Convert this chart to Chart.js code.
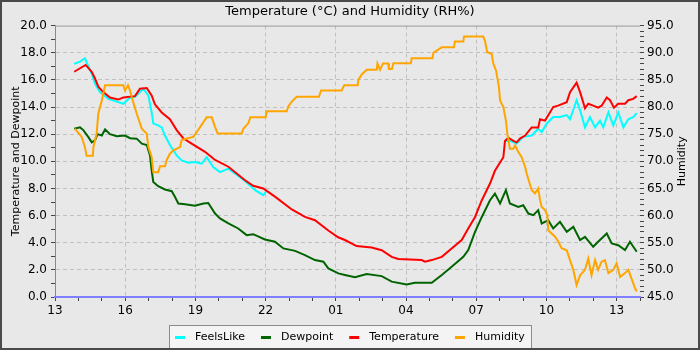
<!DOCTYPE html>
<html>
<head>
<meta charset="utf-8">
<script src="https://cdn.jsdelivr.net/npm/chart.js@4.4.1/dist/chart.umd.min.js"></script>
<style>
  html, body { margin: 0; padding: 0; background: #e8e8e8; }
</style>
</head>
<body>
<canvas id="chart" width="700" height="350"></canvas>
<script>
// hours counted from 13:00 on the first day
const tempHours = [0.82,1.31,1.57,1.71,1.85,2.06,2.35,2.70,2.92,3.42,3.63,3.92,4.13,4.27,4.56,4.91,5.20,5.48,5.84,6.41,6.84,7.41,8.12,8.47,8.90,9.40,10.12,10.68,11.11,11.68,12.10,12.39,12.89,13.53,13.96,14.39,14.67,15.67,15.81,16.10,16.53,16.95,17.38,17.66,17.95,18.24,18.59,18.80,19.16,19.23,19.37,19.59,19.73,19.87,20.09,20.37,20.65,20.73,20.94,21.08,21.29,21.50,21.87,22.01,22.29,22.44,22.65,22.79,23.00,23.21,23.36,23.58,23.72,23.89,24.07,24.36,24.50,24.71,24.86];
const temperature = [16.6,17.1,16.6,16.1,15.5,15.1,14.7,14.55,14.7,14.8,15.35,15.4,14.85,14.2,13.6,13.1,12.3,11.7,11.3,10.7,10.1,9.6,8.6,8.2,8.0,7.4,6.45,5.9,5.66,4.9,4.4,4.2,3.75,3.65,3.45,2.96,2.8,2.72,2.6,2.72,2.96,3.58,4.2,5.05,5.9,7.13,8.36,9.3,10.3,11.5,11.74,11.5,11.4,11.67,11.9,12.5,12.5,13.1,13.0,13.4,14.0,14.1,14.36,15.1,15.8,15.1,13.9,14.24,14.1,13.95,14.1,14.7,14.5,13.95,14.24,14.24,14.5,14.6,14.8];

const dewHours = [0.82,1.07,1.21,1.42,1.57,1.71,1.82,2.00,2.14,2.35,2.64,2.99,3.21,3.49,3.71,3.92,4.06,4.13,4.20,4.41,4.70,4.99,5.13,5.27,5.56,5.98,6.34,6.55,6.84,7.05,7.41,7.83,8.19,8.47,8.97,9.40,9.76,10.26,10.68,11.11,11.47,11.68,12.11,12.39,12.82,13.32,13.96,14.39,15.03,15.38,16.10,16.53,16.95,17.45,17.66,17.95,18.24,18.59,18.80,19.02,19.27,19.44,19.80,20.01,20.23,20.44,20.65,20.80,21.08,21.29,21.58,21.87,22.15,22.44,22.65,23.00,23.21,23.58,23.79,24.07,24.36,24.57,24.86];
const dewpoint = [12.4,12.5,12.3,11.8,11.4,11.55,12.0,11.9,12.35,12.0,11.85,11.9,11.7,11.67,11.3,11.2,10.44,9.34,8.48,8.16,7.92,7.8,7.37,6.89,6.84,6.72,6.89,6.93,6.15,5.79,5.42,5.05,4.56,4.63,4.24,4.07,3.58,3.4,3.09,2.72,2.6,2.11,1.74,1.62,1.45,1.69,1.54,1.13,0.93,1.05,1.05,1.62,2.23,2.96,3.46,4.8,5.9,7.13,7.62,6.89,7.87,6.89,6.64,6.76,6.15,6.03,6.4,5.42,5.66,5.05,5.54,4.8,5.17,4.2,4.43,3.7,4.07,4.68,3.95,3.82,3.46,4.07,3.33];

// null where FeelsLike sits on the Temperature line
const feelsHours = [0.82,1.07,1.28,1.35,1.57,1.71,1.92,2.28,2.64,2.92,3.21,3.42,3.77,3.99,4.13,4.20,4.41,4.56,4.70,4.91,5.20,5.41,5.70,5.98,6.27,6.48,6.76,7.05,7.41,8.12,8.55,8.90,9.05,9.10,19.23,19.44,19.73,20.01,20.37,20.65,20.80,21.01,21.29,21.58,21.87,22.01,22.29,22.44,22.65,22.86,23.08,23.29,23.43,23.65,23.86,24.07,24.29,24.50,24.71,24.86];
const feelsLike = [17.18,17.35,17.6,17.3,16.45,15.7,15.1,14.6,14.4,14.24,14.7,14.75,15.35,14.85,13.6,12.8,12.65,12.5,11.9,11.2,10.44,10.07,9.9,9.95,9.83,10.3,9.58,9.2,9.46,8.55,7.87,7.5,7.85,null,11.5,11.5,11.3,11.8,11.9,12.4,12.15,12.77,13.26,13.26,13.4,13.1,14.5,13.75,12.5,13.26,12.5,13.0,12.5,13.6,12.65,13.6,12.5,13.1,13.26,13.55];

const humHours = [0.85,1.14,1.28,1.35,1.62,1.64,1.78,1.85,2.00,2.14,2.92,2.99,3.12,3.21,3.28,3.49,3.71,3.92,3.99,4.13,4.20,4.41,4.49,4.70,4.77,4.91,5.06,5.34,5.41,5.63,5.91,6.06,6.20,6.34,6.48,6.70,6.84,6.95,7.98,8.05,8.26,8.35,9.00,9.05,9.90,9.97,10.12,10.33,11.28,11.37,12.25,12.36,12.94,12.96,13.11,13.32,13.75,13.78,13.89,14.02,14.24,14.27,14.40,14.46,15.21,15.24,16.13,16.17,16.53,17.05,17.09,17.45,17.48,18.30,18.38,18.47,18.66,18.73,18.85,18.97,19.02,19.16,19.27,19.33,19.44,19.59,19.66,19.80,19.94,20.09,20.16,20.37,20.51,20.65,20.73,20.80,20.94,21.04,21.08,21.37,21.51,21.65,21.87,22.01,22.15,22.29,22.44,22.65,22.79,22.93,23.08,23.21,23.36,23.50,23.65,23.86,24.00,24.15,24.36,24.50,24.64,24.79,24.86];
const humidity = [76.0,74.5,72.6,71.0,71.0,72.6,75.1,78.8,81.2,84.0,84.0,83.05,84.0,83.0,81.8,78.8,76.0,75.1,72.6,70.8,68.0,68.0,69.1,69.1,70.2,71.4,72.0,72.6,73.9,74.2,74.5,75.4,76.3,77.2,78.1,78.1,76.3,75.1,75.1,76.0,77.0,78.1,78.1,79.2,79.2,80.1,81.0,81.9,81.9,83.05,83.05,84.0,84.0,85.0,86.0,86.85,86.85,88.0,86.85,88.0,88.0,87.0,87.0,88.07,88.07,89.0,89.0,90.0,91.0,91.0,92.06,92.06,93.0,93.0,92.1,90.1,89.8,88.0,86.7,83.7,81.2,80.0,77.5,75.1,72.3,72.3,72.9,71.7,70.8,69.0,67.7,64.7,64.1,65.0,62.8,61.6,61.0,60.1,57.3,56.1,55.2,54.0,53.6,51.8,50.0,47.2,49.0,50.0,52.1,49.0,51.8,50.0,51.5,51.8,49.4,50.0,51.2,48.7,49.4,50.0,48.4,46.6,46.0];

const seriesNames = ["FeelsLike", "Dewpoint", "Temperature", "Humidity"];
const seriesColors = ["#00ffff", "#006400", "#ff0000", "#ffa500"];

function points(hours, values) {
  return hours.map((h, i) => ({ x: h, y: values[i] }));
}

function hourLabel(v) {
  if (v % 3 !== 0) return "";
  return String((13 + v) % 24).padStart(2, "0");
}

const GRID = "#c0c0c0";
const FONT = "'DejaVu Sans', sans-serif";

Chart.defaults.font.family = FONT;
Chart.defaults.color = "#000";

// legend box under the axis, frame round the picture, right axis title
const framePlugin = {
  id: "frame",
  beforeDraw(c) {
    const ctx = c.ctx;
    ctx.save();
    ctx.fillStyle = "#e8e8e8";
    ctx.fillRect(0, 0, c.width, c.height);
    ctx.restore();
  },
  afterDraw(c) {
    const ctx = c.ctx;
    const a = c.chartArea;
    ctx.save();
    ctx.strokeStyle = "#999";
    ctx.lineWidth = 1;
    ctx.beginPath();
    ctx.moveTo(a.left, a.top + 0.5);
    ctx.lineTo(a.right, a.top + 0.5);
    ctx.stroke();

    ctx.save();
    ctx.translate(682, (a.top + a.bottom) / 2);
    ctx.rotate(-Math.PI / 2);
    ctx.fillStyle = "#000";
    ctx.font = "11px " + FONT;
    ctx.textAlign = "center";
    ctx.textBaseline = "middle";
    ctx.fillText("Humidity", 0, 0);
    ctx.restore();

    // legend
    ctx.font = "11px " + FONT;
    const items = c.data.datasets.map(d => ({ text: d.label, color: d.borderColor, w: ctx.measureText(d.label).width }));
    const mark = 10, gap = 10, spacing = 16, pad = 6;
    let total = pad * 2 + spacing * (items.length - 1);
    items.forEach(it => { total += mark + gap + it.w; });
    const left = Math.round(c.width / 2 - total / 2);
    const top = 325, h = 24, cy = 337;
    ctx.fillStyle = "#f4f4f4";
    ctx.fillRect(left, top, total, h);
    ctx.strokeStyle = "#8c8c8c";
    ctx.strokeRect(left + 0.5, top + 0.5, Math.round(total), h);
    let x = left + pad;
    items.forEach(it => {
      ctx.fillStyle = it.color;
      ctx.fillRect(x, cy - 1, mark, 3);
      ctx.fillStyle = "#000";
      ctx.textAlign = "left";
      ctx.textBaseline = "middle";
      ctx.fillText(it.text, x + mark + gap, cy);
      x += mark + gap + it.w + spacing;
    });

    ctx.strokeStyle = "#4a4a4a";
    ctx.lineWidth = 2;
    ctx.strokeRect(1, 1, c.width - 2, c.height - 2);
    ctx.restore();
  }
};

const ctx = document.getElementById("chart").getContext("2d");
const chart = new Chart(ctx, {
  type: "line",
  data: {
    datasets: [
      { label: seriesNames[0], data: points(feelsHours, feelsLike), yAxisID: "y", order: 4 },
      { label: seriesNames[1], data: points(dewHours, dewpoint), yAxisID: "y", order: 3 },
      { label: seriesNames[2], data: points(tempHours, temperature), yAxisID: "y", order: 2 },
      { label: seriesNames[3], data: points(humHours, humidity), yAxisID: "y1", order: 1 }
    ].map((d, i) => Object.assign(d, {
      borderColor: seriesColors[i],
      backgroundColor: seriesColors[i],
      borderWidth: 2,
      pointRadius: 0,
      tension: 0,
      spanGaps: false
    }))
  },
  options: {
    responsive: false,
    animation: false,
    layout: { padding: { left: 0, right: 0, top: 0, bottom: 28 } },
    plugins: {
      title: {
        display: true,
        text: "Temperature (°C) and Humidity (RH%)",
        font: { size: 13, weight: "normal" },
        color: "#000",
        padding: { top: 4, bottom: 6 }
      },
      legend: { display: false },
      tooltip: { enabled: false }
    },
    scales: {
      x: {
        type: "linear",
        min: 0,
        max: 25,
        afterFit: s => { s.height = 25; },
        ticks: {
          stepSize: 1,
          autoSkip: false,
          maxRotation: 0,
          font: { size: 12 },
          padding: 3,
          callback: v => hourLabel(v)
        },
        grid: {
          color: c => (c.tick && c.tick.value % 3 === 0 && c.tick.value > 0 && c.tick.value < 25) ? GRID : "rgba(0,0,0,0)",
          tickColor: "#444",
          tickLength: 4,
          tickBorderDash: []
        },
        border: { color: "#8080ff", width: 2, dash: [4, 3] }
      },
      y: {
        position: "left",
        min: 0,
        max: 20,
        afterFit: s => { s.width = 55; },
        ticks: {
          stepSize: 1,
          autoSkip: false,
          font: { size: 12 },
          padding: 4,
          callback: v => (v % 2 === 0 ? v.toFixed(1) : "")
        },
        grid: {
          color: c => (c.tick && c.tick.value % 2 === 0 && c.tick.value > 0 && c.tick.value < 20) ? GRID : "rgba(0,0,0,0)",
          tickColor: "#444",
          tickLength: 4,
          tickBorderDash: []
        },
        border: { color: "#888", width: 1, dash: [4, 3] },
        title: {
          display: true,
          text: "Temperature and Dewpoint",
          font: { size: 11 },
          color: "#000",
          padding: { top: 10, bottom: 0 }
        }
      },
      y1: {
        position: "right",
        min: 45,
        max: 95,
        afterFit: s => { s.width = 60; },
        ticks: {
          stepSize: 1,
          autoSkip: false,
          font: { size: 12 },
          padding: 3,
          callback: v => (v % 5 === 0 ? v.toFixed(1) : "")
        },
        grid: {
          drawOnChartArea: false,
          tickColor: "#444",
          tickLength: 4
        },
        border: { display: false }
      }
    }
  },
  plugins: [framePlugin]
});
</script>
</body>
</html>
